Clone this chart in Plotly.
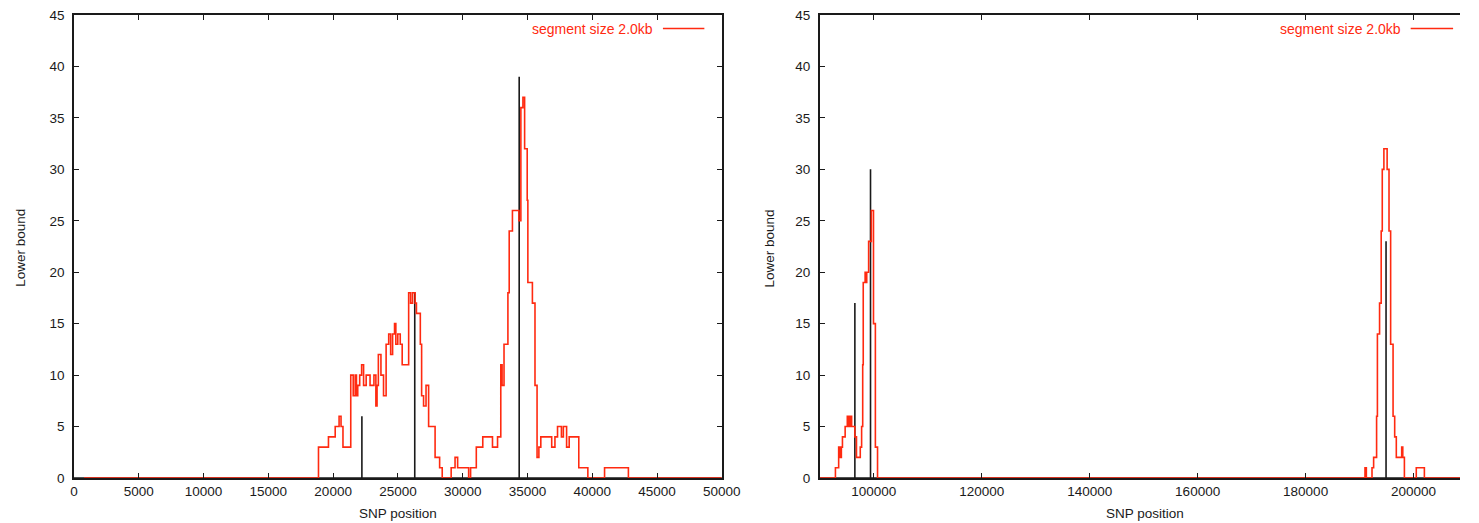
import plotly.graph_objects as go

# ---------------------------------------------------------------------------
# Data: red step curve = lower bound per segment,
# black impulses = true positions.
# ---------------------------------------------------------------------------

left_step_x = [
    780, 18870, 19640, 20160, 20460, 20610, 20760, 21360, 21550, 21700,
    21800, 21900, 22050, 22200, 22350, 22550, 22850, 23150, 23300, 23390,
    23490, 23690, 23890, 24090, 24290, 24440, 24590, 24740, 24840, 24990,
    25180, 25330, 25830, 25980, 26130, 26330, 26430, 26730, 26830, 26980,
    27170, 27370, 27870, 28220, 28420, 29110, 29410, 29610, 30460, 30610,
    31050, 31550, 32300, 32690, 32940, 33040, 33190, 33490, 33590, 33840,
    34340, 34490, 34650, 34780, 34980, 35030, 35380, 35580, 35740, 35880,
    36030, 36870, 37120, 37320, 37620, 37770, 38020, 38220, 38960, 39660,
    40950, 42790, 50000,
]
left_step_y = [
    0, 3, 4, 5, 6, 5, 3, 10, 8, 10,
    8, 9, 10, 11, 9, 10, 9, 10, 7, 9,
    12, 10, 8, 13, 14, 12, 14, 15, 13, 14,
    13, 11, 18, 17, 18, 17, 16, 13, 8, 7,
    9, 5, 2, 1, 0, 1, 2, 1, 0, 1,
    3, 4, 3, 4, 11, 9, 13, 18, 24, 26,
    25, 36, 37, 32, 27, 19, 17, 9, 2, 3,
    4, 3, 4, 5, 4, 5, 3, 4, 1, 0,
    1, 0, 0,
]
left_true_pos = [22220, 26300, 34360]
left_true_val = [6, 18, 39]

right_step_x = [
    90000, 92900, 93500, 93800, 94000, 94200, 94700, 95100, 95400, 95600,
    95900, 96500, 96800, 97500, 97750, 97950, 98050, 98400, 98550, 98700,
    99050, 99550, 99950, 100300, 100700, 191000, 191250, 192300, 192600, 193150,
    193300, 193700, 194000, 194200, 194500, 195100, 195450, 195750, 196200, 196500,
    196800, 197800, 198000, 198300, 200500, 202000, 208600,
]
right_step_y = [
    0, 1, 3, 2, 3, 4, 5, 6, 5, 6,
    5, 4, 2, 3, 5, 11, 19, 20, 19, 20,
    23, 26, 15, 3, 0, 1, 0, 1, 2, 6,
    14, 17, 24, 30, 32, 30, 24, 13, 6, 4,
    2, 3, 2, 0, 1, 0, 0,
]
right_true_pos = [96500, 99400, 194900]
right_true_val = [17, 30, 23]

y_ticks = list(range(0, 50, 5))
left_x_ticks = list(range(0, 55000, 5000))
right_x_ticks = list(range(100000, 220000, 20000))

legend_label = "segment size 2.0kb"

# ---------------------------------------------------------------------------
# Layout geometry (window pixels; body margin is removed below)
# ---------------------------------------------------------------------------
W, H = 1479, 523
M_L, M_R, M_T, M_B = 74, 0, 15, 45
RED = "#ff2a10"
INK = "#1a1a1a"
FONT = "Liberation Sans, Arial, Helvetica, sans-serif"


def px_x(px):
    return (px - M_L) / (W - M_L - M_R)


def px_y(py):
    return (H - M_B - py) / (H - M_T - M_B)


def impulses(pos, val, xmin, xmax):
    xs, ys = [xmin], [0]
    for p, v in zip(pos, val):
        xs += [p, p, p]
        ys += [0, v, 0]
    xs.append(xmax)
    ys.append(0)
    return xs, ys


fig = go.Figure()

panels = [
    ("x", "y", left_step_x, left_step_y, left_true_pos, left_true_val, 0, 50000),
    ("x2", "y2", right_step_x, right_step_y, right_true_pos, right_true_val, 90000, 208600),
]
for xa, ya, sx, sy, tp, tv, xmin, xmax in panels:
    bx, by = impulses(tp, tv, xmin, xmax)
    fig.add_trace(go.Scatter(x=bx, y=by, mode="lines", xaxis=xa, yaxis=ya,
                             line=dict(color=INK, width=1.6), showlegend=False,
                             hoverinfo="skip"))
    fig.add_trace(go.Scatter(x=sx, y=sy, mode="lines", line_shape="hv",
                             xaxis=xa, yaxis=ya, name=legend_label,
                             line=dict(color=RED, width=1.6), showlegend=False))

axis_common = dict(
    showline=True, linecolor=INK, linewidth=1.5, ticks="inside", ticklen=5,
    tickwidth=1.2, tickcolor=INK, showgrid=False, zeroline=False,
    ticklabeloverflow="allow",
    tickfont=dict(family=FONT, size=13.5, color=INK),
)

left_right_px = 730.7
right_left_px = 830

fig.update_layout(
    width=W, height=H, autosize=False,
    margin=dict(l=M_L, r=M_R, t=M_T, b=M_B),
    paper_bgcolor="white", plot_bgcolor="white",
    font=dict(family=FONT, size=13.5, color=INK),
    hovermode=False,
    xaxis=dict(axis_common, domain=[0, px_x(left_right_px)], range=[0, 50000],
               tickvals=left_x_ticks, tickformat="d", mirror="ticks",
               ticklabelstandoff=0),
    yaxis=dict(axis_common, range=[0, 45], tickvals=y_ticks, mirror="ticks",
               ticklabelstandoff=5),
    xaxis2=dict(axis_common, domain=[px_x(right_left_px), 1], range=[90000, 208600],
                tickvals=right_x_ticks, tickformat="d", mirror="ticks", anchor="y2",
                ticklabelstandoff=0),
    yaxis2=dict(axis_common, range=[0, 45], tickvals=y_ticks, anchor="x2",
                mirror=False, ticklabelstandoff=5),
)

# axis titles
for cx in (402, 1160):
    fig.add_annotation(text="SNP position", xref="paper", yref="paper",
                       x=px_x(cx), y=px_y(513), showarrow=False,
                       xanchor="center", yanchor="middle",
                       font=dict(family=FONT, size=13.5, color=INK))
for cx in (20, 780):
    fig.add_annotation(text="Lower bound", xref="paper", yref="paper",
                       x=px_x(cx), y=px_y(248), showarrow=False, textangle=-90,
                       xanchor="center", yanchor="middle",
                       font=dict(family=FONT, size=13.5, color=INK))

# gnuplot-style key: label then line sample, top right of each panel
for text_end, line_from, line_to in ((663, 671, 713), (1421, 1429, 1472)):
    fig.add_annotation(text=legend_label, xref="paper", yref="paper",
                       x=px_x(text_end), y=px_y(29), showarrow=False,
                       xanchor="right", yanchor="middle",
                       font=dict(family=FONT, size=14, color=RED))
    fig.add_shape(type="line", xref="paper", yref="paper",
                  x0=px_x(line_from), x1=px_x(line_to), y0=px_y(28.5), y1=px_y(28.5),
                  line=dict(color=RED, width=1.6))

# drop the page margin and let the figure fill the whole viewport width
fix_size = (
    "document.body.style.margin='0';"
    "document.body.style.overflow='hidden';"
    "var gd=document.getElementById('{plot_id}');"
    "var vw=Math.max(document.documentElement.clientWidth||0,window.innerWidth||0,%d);"
    "gd.style.width=vw+'px';gd.style.height='%dpx';"
    "Plotly.relayout(gd,{autosize:false,width:vw,height:%d});" % (W, H, H)
)

fig.write_html(
    "out.html",
    config={"displayModeBar": False, "responsive": False},
    post_script=fix_size,
)
